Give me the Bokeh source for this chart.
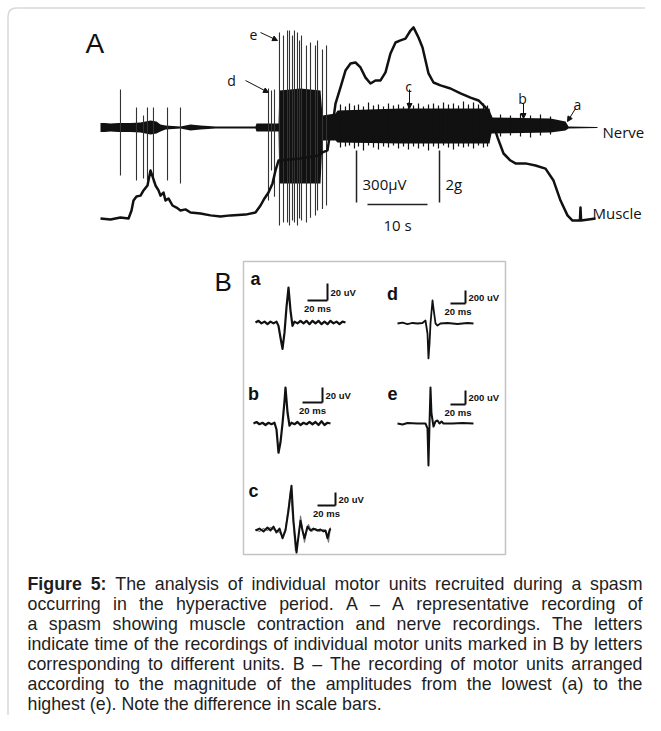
from bokeh.plotting import figure
from bokeh.models import Range1d, Label, Arrow, NormalHead, ColumnDataSource
from bokeh.core.properties import value
from bokeh.embed import file_html
from bokeh.resources import INLINE

# ---------------- Panel A data ----------------
# Nerve recording: envelope of the discharge (time s, upper / lower extent in uV)
nerve_t = [0, 0.67, 1.67, 3, 5, 6.67, 8.33, 9.33, 10, 10.83, 13.33, 15, 16.67, 19.17, 25.83, 26,
           29.67, 29.83, 33.33, 36.67, 37, 39.17, 39.5, 50, 64.83, 65.17, 75, 77.5, 78, 82.83]
nerve_top = [26, 26, 23, 26, 26, 29, 40, 35, 17, 12, 6, 17, 12, 6, 6, 23,
             23, 213, 225, 213, 69, 81, 98, 110, 110, 58, 52, 35, 6, 3]
nerve_bot = [-26, -26, -23, -26, -26, -29, -40, -35, -23, -12, -6, -17, -12, -6, -6, -23,
             -23, -323, -323, -323, -75, -75, -86, -92, -92, -35, -29, -17, -6, -3]

# Large motor-unit spikes (time s, top uV, bottom uV)
spike_t = [3.33, 6, 7.17, 7.83, 8.83, 11.17, 13.33, 28, 28.5, 29, 29.83, 30.5, 31.17, 31.5, 32,
           32.33, 32.83, 33.17, 33.5, 34.33, 35, 35.83, 36.17, 37, 37.67]
spike_top = [219, 115, 69, 115, 115, 115, 115, 225, 213, 219, 548, 531, 560, 560, 531,
             560, 548, 502, 531, 473, 490, 473, 502, 450, 473]
spike_bot = [-277, -306, -294, -306, -317, -306, -323, -421, -248, -400, -565, -548, -548, -565, -537,
             -548, -565, -525, -537, -548, -520, -508, -479, -470, -450]

# Small peaks sticking out of the sustained discharge
fringe_t = [40, 40.83, 41.5, 42.33, 43, 43.83, 44.67, 45.5, 46.33, 47.17, 48, 48.83, 49.67, 50.5,
            51.33, 52.17, 53, 53.83, 54.67, 55.5, 56.33, 57.17, 58, 58.83, 59.67, 60.5, 61.33,
            62.17, 63, 63.83, 64.5, 66.67, 68.33, 70, 71.67, 73.33, 75]
fringe_top = [133, 121, 138, 127, 133, 121, 144, 127, 133, 121, 138, 127, 133, 121, 144, 127, 138,
              121, 133, 138, 127, 144, 133, 138, 127, 150, 133, 144, 133, 138, 127,
              75, 69, 81, 69, 75, 63]
fringe_bot = [-115, -110, -104, -121, -110, -133, -104, -115, -127, -110, -115, -104, -121, -110,
              -127, -110, -121, -110, -133, -110, -121, -104, -115, -127, -110, -115, -110, -121,
              -104, -115, -110, -52, -46, -52, -58, -46, -40]

# Muscle force (time s, grams)
muscle_t = [0, 1.67, 3.33, 4.67, 5.17, 5.5, 6, 6.67, 7.17, 7.83, 8.33, 8.67, 9.17, 9.67, 10, 10.5,
            10.83, 11.33, 12, 12.67, 13.33, 14.17, 15, 16.67, 18.33, 20, 21.67, 24.17, 25.83, 26.67,
            27.33, 28, 28.67, 29.17, 29.67, 33.33, 36.33, 37, 37.83, 38.33, 38.83, 39.17, 40, 40.83,
            41.67, 42.5, 43.33, 44.17, 45, 45.83, 46.67, 47.5, 48.33, 49.17, 50, 50.83, 51.67, 52.17,
            53, 53.67, 54.67, 55.5, 56.67, 58.33, 60, 61.67, 63, 64.17, 65, 66.17, 67.17, 68.33,
            69.17, 70.83, 72.5, 74.17, 75.5, 76.67, 77.83, 78.67, 79.9, 80.0, 80.1, 81.33, 82.5]
muscle_g = [0, -0.04, 0.04, 0, 0.31, 0.69, 0.85, 0.88, 1.08, 1.27, 1.85, 1.62, 1.27, 1.08, 0.88, 1.0,
            0.69, 0.77, 0.5, 0.42, 0.31, 0.35, 0.23, 0.19, 0.12, 0.08, 0.12, 0.15, 0.23, 0.5,
            0.77, 1.0, 1.35, 1.85, 2.23, 2.31, 2.42, 2.54, 2.62, 3.38, 3.85, 4.42, 5.04, 5.69,
            5.96, 6.0, 5.81, 5.42, 5.19, 5.31, 5.31, 5.62, 6.35, 6.77, 6.85, 6.92, 7.23, 7.35,
            6.96, 6.58, 5.58, 5.23, 5.12, 5.0, 4.81, 4.65, 4.54, 4.27, 3.96, 3.12, 2.5, 2.23,
            2.12, 2.12, 2.04, 1.92, 1.46, 0.69, 0.12, -0.08, -0.08, 0.42, -0.08, -0.04, 0]

# Scale bars of panel A
bar_nerve_uv = 300
bar_muscle_g = 2
bar_time_s = 10

# ---------------- Panel B data (time ms, amplitude uV) ----------------
unit_a_ms = [0, 3, 6, 9, 12, 15, 18, 21, 23, 25, 27, 29, 31, 33, 35, 37, 39, 42, 45, 48, 51, 54, 57,
             60, 63, 66, 69, 72, 75, 78, 81, 84, 87, 90]
unit_a_uv = [0, 2, -1, 1, -2, 1, -1, 1, -4, -18, -31, -12, 18, 41, 14, -4, 1, -1, 2, -1, 2, -2, 2,
             -1, 2, -2, 1, -2, 2, -1, 1, -2, 1, 0]
unit_b_ms = [0, 3, 6, 9, 12, 15, 18, 21, 23, 25, 27, 29, 31, 32, 34, 36, 38, 41, 44, 47, 50, 53, 56,
             59, 62, 65, 68, 71, 74, 77]
unit_b_uv = [0, 2, -1, 1, -2, 1, -1, 1, -8, -39, -25, 0, 30, 48, 15, -3, 1, -1, 2, -2, 1, -1, 2,
             -1, 2, -2, 3, -2, 1, 0]
unit_c_ms = [0, 4.4, 8.9, 13.3, 16.7, 20, 23.3, 26.7, 30, 33.3, 36.7, 40, 42.2, 45.6, 47.8, 50,
             52.2, 54.4, 57.8, 61.1, 64.4, 68.9, 72.2, 75.6, 77.8, 80, 82.2, 83.3]
unit_c_uv = [0, 3, -1.5, 4.6, 0, 6, -3, 3, -12, 0, 31, 69, 15, -34, -8, 15, 0, -12, 6, 0, 3, 0,
             1.5, -1.5, 0, -12, 0, 3]
unit_c2_ms = [0, 4.4, 8.9, 13.3, 16.7, 20, 23.3, 26.7, 30, 33.3, 36.7, 38.9, 41.1, 44.4, 47.8, 50,
              52.2, 54.4, 56.7, 58.9, 62.2, 66.7, 71.1, 75.6, 78.9, 81.1, 82.2, 83.3]
unit_c2_uv = [1.5, -1.5, 3, 0, 4.6, 1.5, 0, -3, -9, 3, 38, 62, 23, -31, -12, 22, 3, -18, -3, 9,
              -1.5, 3, -1.5, 1.5, -3, -18, -6, 4.6]
unit_d_ms = [0, 6.7, 13.3, 20, 26.7, 33.3, 37.3, 40, 41.3, 42.7, 44, 46.7, 48, 50.7, 53.3, 57.3,
             66.7, 80, 93.3, 101.3]
unit_d_uv = [0, 15, -8, 8, 0, 8, 46, -154, -538, -308, 0, 354, 231, 0, -31, 0, 8, -8, 8, 0]
unit_e_ms = [0, 6.7, 13.3, 26.7, 37.3, 40, 41.3, 42.7, 44, 45.3, 48, 50.7, 53.3, 56, 58.7, 61.3,
             73.3, 86.7, 101.3]
unit_e_uv = [0, -14, 7, 0, 0, -71, -600, 0, 514, 143, -43, 29, 43, 0, 29, 0, 0, 7, 0]

unit_names = ["a", "b", "c", "d", "e"]
unit_bar_ms = [20, 20, 20, 20, 20]
unit_bar_uv = [20, 20, 20, 200, 200]

caption_lines = [
    "Figure 5: The analysis of individual motor units recruited during a spasm",
    "occurring in the hyperactive period. A \u2013 A representative recording of",
    "a spasm showing muscle contraction and nerve recordings. The letters",
    "indicate time of the recordings of individual motor units marked in B by letters",
    "corresponding to different units. B \u2013 The recording of motor units arranged",
    "according to the magnitude of the amplitudes from the lowest (a) to the",
    "highest (e). Note the difference in scale bars.",
]

# ---------------- layout ----------------
W, H = 645, 715
X0, X1 = 0, W
Y0, Y1 = 0, H
INK = "#111111"

p = figure(width=W, height=H, x_range=Range1d(X0, X1), y_range=Range1d(Y1, Y0),
           output_backend="svg", toolbar_location=None, min_border=0,
           x_axis_location=None, y_axis_location=None)
p.grid.visible = False
p.outline_line_color = None
p.background_fill_color = "white"
p.border_fill_color = "white"


def xr(x0, k):
    return Range1d((X0 - x0) / k, (X1 - x0) / k)


def yr(y0, k):
    return Range1d((y0 - Y1) / k, (y0 - Y0) / k)


# outer frame (rounded corner)
FR = "#d8d8d8"
p.line([7.5, 7.5], [Y1, 16], line_color=FR, line_width=1.5)
p.line([16, X1], [7.5, 7.5], line_color=FR, line_width=1.5)
p.quadratic(x0=[7.5], y0=[16], x1=[16], y1=[7.5], cx=[7.5], cy=[7.5], line_color=FR, line_width=1.5)

# ---- Panel A ranges ----
A_T0, A_PXS = 100, 6.0
p.extra_x_ranges = {"t": xr(A_T0, A_PXS)}
p.extra_y_ranges = {"uv": yr(127, 52 / 300), "g": yr(218, 26.0)}

p.varea(x=nerve_t, y1=nerve_bot, y2=nerve_top, fill_color=INK,
        x_range_name="t", y_range_name="uv")
p.segment(x0=fringe_t, y0=fringe_bot, x1=fringe_t, y1=fringe_top, line_color=INK, line_width=1.2,
          x_range_name="t", y_range_name="uv")
p.segment(x0=spike_t, y0=spike_bot, x1=spike_t, y1=spike_top, line_color="#333333", line_width=1.1,
          x_range_name="t", y_range_name="uv")
p.line(muscle_t, muscle_g, line_color=INK, line_width=2.5, line_join="round",
       x_range_name="t", y_range_name="g")

# scale bars A
sb_t_uv = 42.67
p.segment(x0=[sb_t_uv], y0=[-133], x1=[sb_t_uv], y1=[-133 - bar_nerve_uv], line_color="#222",
          line_width=1.5, x_range_name="t", y_range_name="uv")
sb_t_g = 56.5
p.segment(x0=[sb_t_g], y0=[0.62], x1=[sb_t_g], y1=[0.62 + bar_muscle_g], line_color="#222",
          line_width=1.5, x_range_name="t", y_range_name="g")
p.segment(x0=[44.5], y0=[0.54], x1=[44.5 + bar_time_s], y1=[0.54], line_color="#222",
          line_width=1.5, x_range_name="t", y_range_name="g")

FA = "Open Sans"


def lab(x, y, text, size, font=FA, align="left", baseline="alphabetic", style="normal", color=INK):
    p.add_layout(Label(x=x, y=y, text=text, text_font=font, text_font_size=size,
                       text_align=align, text_baseline=baseline, text_font_style=style,
                       text_color=color))


lab(85, 43, "A", "28px", font="Liberation Sans")
lab(214, 281, "B", "26px", font="Liberation Sans")
lab(602, 131, "Nerve", "15px")
lab(592, 212, "Muscle", "15px")
lab(362, 183, "300\u00b5V", "15px")
lab(445, 183, "2g", "15px")
lab(397, 224, "10 s", "15px", align="center")
for t, x, y in [("e", 253, 34), ("d", 231, 80), ("c", 408, 86), ("b", 522, 98), ("a", 577, 104)]:
    lab(x, y, t, "14px", align="center")

for (xs, ys, xe, ye) in [(260, 32, 277, 40), (245, 80, 268, 92), (409, 89, 409, 108),
                         (523, 103, 523, 118), (575, 108, 567, 121)]:
    p.add_layout(Arrow(end=NormalHead(size=5, fill_color=INK, line_color=INK, line_width=1),
                       x_start=xs, y_start=ys, x_end=xe, y_end=ye, line_color=INK, line_width=1))

# ---- Panel B ----
p.quad(left=[243], right=[505], top=[261], bottom=[554], fill_color="white",
       line_color="#c4c4c4", line_width=1.5)

SUB = {"a": (255, 322, 1.0, 0.85), "b": (253, 423, 1.0, 0.75), "c": (255, 530, 0.9, 0.65),
       "d": (397, 323, 0.75, 0.065), "e": (397, 423, 0.75, 0.07)}
BAR_CORNER = {"a": (327, 300), "b": (322, 402), "c": (335, 505), "d": (465, 303), "e": (465, 404)}
LETTER_POS = {"a": (255, 278), "b": (253, 393), "c": (253, 490), "d": (392, 293), "e": (392, 393)}
traces = {"a": [(unit_a_ms, unit_a_uv, INK, 2.2)],
          "b": [(unit_b_ms, unit_b_uv, INK, 2.2)],
          "c": [(unit_c2_ms, unit_c2_uv, "#777777", 1.2), (unit_c_ms, unit_c_uv, INK, 2.0)],
          "d": [(unit_d_ms, unit_d_uv, INK, 1.8)],
          "e": [(unit_e_ms, unit_e_uv, INK, 2.0)]}

for name, bms, buv in zip(unit_names, unit_bar_ms, unit_bar_uv):
    x0, y0, sx, sy = SUB[name]
    xn, yn = "bx_" + name, "by_" + name
    p.extra_x_ranges[xn] = xr(x0, sx)
    p.extra_y_ranges[yn] = yr(y0, sy)
    for ms, uv, col, lw in traces[name]:
        p.line(ms, uv, line_color=col, line_width=lw, line_join="round",
               x_range_name=xn, y_range_name=yn)
    cx, cy = BAR_CORNER[name]
    cms, cuv = (cx - x0) / sx, (y0 - cy) / sy
    p.segment(x0=[cms, cms - bms], y0=[cuv, cuv], x1=[cms, cms], y1=[cuv + buv, cuv],
              line_color=INK, line_width=2, x_range_name=xn, y_range_name=yn)
    lab(cx + 3, cy - buv * sy / 2, "%d uV" % buv, "9.5px", font="Liberation Sans",
        baseline="middle", style="bold")
    lab(cx - bms * sx / 2, cy + 2, "%d ms" % bms, "9.5px", font="Liberation Sans",
        align="center", baseline="top", style="bold")
    lx, ly = LETTER_POS[name]
    lab(lx, ly, name, "18px", font="Liberation Sans", align="center", style="bold")

# ---- Caption (justified) ----
AR = {' ': 278, '(': 333, ')': 333, ',': 278, '.': 278, ':': 278, '\u2013': 556,
      'A': 667, 'B': 667, 'F': 611, 'N': 722, 'T': 611,
      'a': 556, 'b': 556, 'c': 500, 'd': 556, 'e': 556, 'f': 278, 'g': 556, 'h': 556, 'i': 222,
      'j': 222, 'k': 500, 'l': 222, 'm': 833, 'n': 556, 'o': 556, 'p': 556, 'q': 556, 'r': 333,
      's': 500, 't': 278, 'u': 556, 'v': 500, 'w': 722, 'x': 500, 'y': 500, 'z': 500}
ARB = {'F': 611, 'i': 278, 'g': 611, 'u': 611, 'r': 389, 'e': 556, '5': 556, ':': 333}
CAP_FS = 17.8
CAP_L, CAP_R = 27, 642
CAP_Y0, CAP_DY = 583, 20.0

reg = dict(x=[], y=[], text=[])
bold = dict(x=[], y=[], text=[])
for i, line in enumerate(caption_lines):
    words = line.split(" ")
    isb = [i == 0 and j < 2 for j in range(len(words))]
    widths = [sum((ARB if b else AR).get(ch, 556) for ch in w) / 1000 * CAP_FS
              for w, b in zip(words, isb)]
    if i < len(caption_lines) - 1:
        gap = (CAP_R - CAP_L - sum(widths)) / (len(words) - 1)
    else:
        gap = AR[' '] / 1000 * CAP_FS
    x = CAP_L
    y = CAP_Y0 + i * CAP_DY
    for w, b, wd in zip(words, isb, widths):
        d = bold if b else reg
        d["x"].append(x)
        d["y"].append(y)
        d["text"].append(w)
        x += wd + gap

p.text(x="x", y="y", text="text", source=ColumnDataSource(reg), text_font=value("Liberation Sans"),
       text_font_size=value("%gpx" % CAP_FS), text_color="#1e1e1e", text_baseline="alphabetic")
p.text(x="x", y="y", text="text", source=ColumnDataSource(bold), text_font=value("Liberation Sans"),
       text_font_size=value("%gpx" % CAP_FS), text_font_style="bold", text_color="#1e1e1e",
       text_baseline="alphabetic")

open("out.html", "w").write(file_html(p, INLINE))
